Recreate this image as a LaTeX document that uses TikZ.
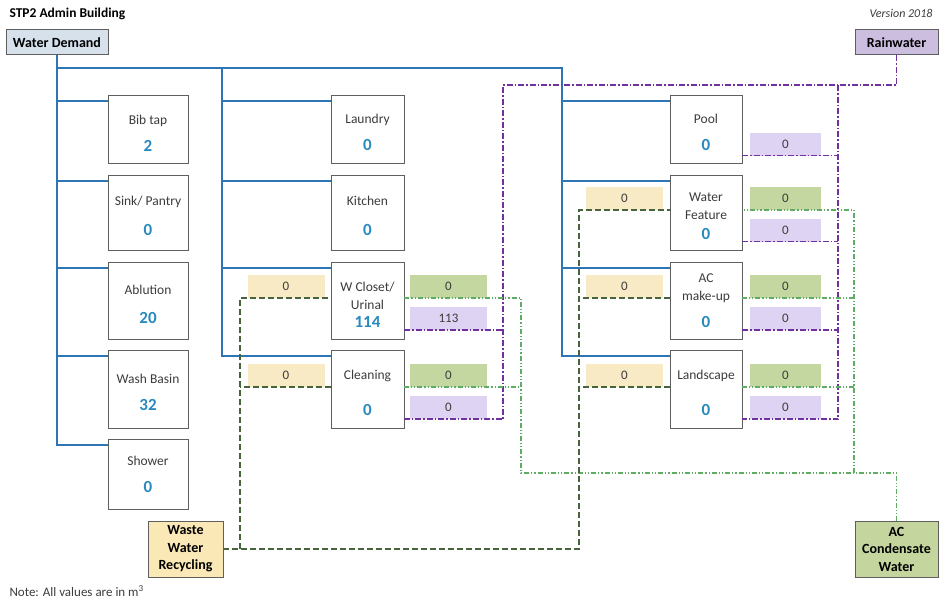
\documentclass[tikz,border=0pt]{standalone}
\usepackage{fontspec}
\setmainfont{Carlito}

\definecolor{boxgray}{RGB}{95,95,95}
\definecolor{labelgray}{RGB}{60,60,60}
\definecolor{valblue}{RGB}{40,138,190}
\definecolor{demandblue}{RGB}{46,117,182}
\definecolor{rainpurple}{RGB}{112,48,160}
\definecolor{condgreen}{RGB}{95,172,100}
\definecolor{wastegreen}{RGB}{72,100,60}
\definecolor{wdfill}{RGB}{214,225,236}
\definecolor{rwfill}{RGB}{204,190,222}
\definecolor{rfill}{RGB}{222,211,242}
\definecolor{yfill}{RGB}{247,234,197}
\definecolor{gfill}{RGB}{196,215,160}
\definecolor{wwrfill}{RGB}{250,232,182}
\definecolor{acwfill}{RGB}{196,214,158}

\newcommand{\demval}[1]{{\fontsize{17}{18}\selectfont\bfseries\color{valblue}#1}}
\newcommand{\tstrut}{\rule{0pt}{17pt}}

\tikzset{
  usage/.style={draw=boxgray, line width=1pt, fill=white, align=center,
    inner sep=0pt, outer sep=0pt, text=labelgray,
    font=\fontsize{13.5}{18}\selectfont},
  source/.style={draw=boxgray, line width=1pt, align=center,
    inner sep=0pt, outer sep=0pt, font=\bfseries\fontsize{14}{17.5}\selectfont},
  share/.style={inner sep=0pt, outer sep=0pt, minimum height=23pt,
    text=labelgray, font=\fontsize{13}{15}\selectfont},
  demand/.style={draw=demandblue, line width=1.4pt},
  rain/.style={draw=rainpurple, line width=1.4pt,
    dash pattern=on 6pt off 2pt on 1.5pt off 2pt},
  cond/.style={draw=condgreen, line width=1.2pt,
    dash pattern=on 5pt off 2pt on 1.2pt off 2pt on 1.2pt off 2pt},
  waste/.style={draw=wastegreen, line width=1.4pt, dash pattern=on 6pt off 3pt}
}

\begin{document}
\begin{tikzpicture}[x=1pt,y=-1pt]
\useasboundingbox (0,0) rectangle (941,602);

\node[anchor=west,font=\bfseries\fontsize{13.5}{15}\selectfont] (title) at (6,14) {STP2 Admin Building};
\node[anchor=east,font=\itshape\fontsize{12}{14}\selectfont,text=labelgray] (ver) at (936,13) {Version 2018};
\node[anchor=west,font=\fontsize{13}{15}\selectfont,text=labelgray] (note) at (6,591) {Note: All values are in m\textsuperscript{3}};

\node[source,fill=wdfill,minimum width=102pt,minimum height=25pt] (wd) at (57,42.5) {Water Demand};
\node[source,fill=rwfill,minimum width=83pt,minimum height=25pt] (rw) at (896.5,42.5) {Rainwater};
\node[source,fill=wwrfill,minimum width=75pt,minimum height=56pt] (wwr) at (185.5,549) {Waste\\Water\\Recycling};
\node[source,fill=acwfill,minimum width=83pt,minimum height=56pt] (acw) at (896.5,549) {AC\\Condensate\\Water};

\node[usage,minimum width=80pt,minimum height=68pt] (bib) at (148,129) {\tstrut Bib tap\\[9pt]\demval{2}};
\node[usage,minimum width=80pt,minimum height=75pt] (sink) at (148,212.5) {\tstrut Sink/ Pantry\\[12pt]\demval{0}};
\node[usage,minimum width=80pt,minimum height=77pt] (ablu) at (148,300.5) {\tstrut Ablution\\[11pt]\demval{20}};
\node[usage,minimum width=80pt,minimum height=78pt] (wash) at (148,389) {\tstrut Wash Basin\\[9pt]\demval{32}};
\node[usage,minimum width=80pt,minimum height=70pt] (shower) at (148,474) {Shower\\[9pt]\demval{0}};

\node[usage,minimum width=73pt,minimum height=68pt] (laundry) at (367.5,129) {\tstrut Laundry\\[9pt]\demval{0}};
\node[usage,minimum width=73pt,minimum height=75pt] (kitchen) at (367.5,212.5) {\tstrut Kitchen\\[12pt]\demval{0}};
\node[usage,minimum width=73pt,minimum height=77pt] (wc) at (367.5,300.5) {\tstrut W Closet/\\Urinal\\[0pt]\demval{114}};
\node[usage,minimum width=73pt,minimum height=78pt] (cl) at (367.5,389) {\tstrut Cleaning\\[18pt]\demval{0}};

\node[usage,minimum width=72pt,minimum height=68pt] (pool) at (706,129) {\tstrut Pool\\[9pt]\demval{0}};
\node[usage,minimum width=72pt,minimum height=75pt] (wf) at (706,212.5) {\tstrut Water\\Feature\\[2pt]\demval{0}};
\node[usage,minimum width=72pt,minimum height=77pt] (ac) at (706,300.5) {AC\\make-up\\[9pt]\demval{0}};
\node[usage,minimum width=72pt,minimum height=78pt] (ls) at (706,389) {\tstrut Landscape\\[18pt]\demval{0}};

\node[share,fill=yfill,minimum width=77pt] (wcY) at (286,286.5) {0};
\node[share,fill=gfill,minimum width=77pt] (wcC) at (448.5,286.5) {0};
\node[share,fill=rfill,minimum width=77pt] (wcR) at (448.5,318.5) {113};
\node[share,fill=yfill,minimum width=77pt] (clY) at (286,375.5) {0};
\node[share,fill=gfill,minimum width=77pt] (clC) at (448.5,375.5) {0};
\node[share,fill=rfill,minimum width=77pt] (clR) at (448.5,407.5) {0};

\node[share,fill=rfill,minimum width=71pt] (poolR) at (785.5,144) {0};
\node[share,fill=yfill,minimum width=77pt] (wfY) at (624.5,198.5) {0};
\node[share,fill=gfill,minimum width=71pt] (wfC) at (785.5,198.5) {0};
\node[share,fill=rfill,minimum width=71pt] (wfR) at (785.5,230) {0};
\node[share,fill=yfill,minimum width=77pt] (acY) at (624.5,286.5) {0};
\node[share,fill=gfill,minimum width=71pt] (acC) at (785.5,286.5) {0};
\node[share,fill=rfill,minimum width=71pt] (acR) at (785.5,318.5) {0};
\node[share,fill=yfill,minimum width=77pt] (lsY) at (624.5,375.5) {0};
\node[share,fill=gfill,minimum width=71pt] (lsC) at (785.5,375.5) {0};
\node[share,fill=rfill,minimum width=71pt] (lsR) at (785.5,407.5) {0};

% demand
\coordinate (busA) at (222,68);
\coordinate (busB) at (562,68);
\draw[demand] (wd.south) |- (busB) |- ([yshift=-6pt]ls.north west);
\draw[demand] (busA) |- ([yshift=-6pt]cl.north west);
\draw[demand] (wd.south) |- ([yshift=-6pt]shower.north west);
\foreach \u in {bib,sink,ablu,wash}
  \draw[demand] ([yshift=-6pt]\u.north west) -| (wd.south);
\foreach \u in {laundry,kitchen,wc}
  \draw[demand] ([yshift=-6pt]\u.north west) -| (busA);
\foreach \u in {pool,wf,ac}
  \draw[demand] ([yshift=-6pt]\u.north west) -| (busB);

% rainwater
\coordinate (rainA) at (503,85);
\coordinate (rainB) at (838,85);
\draw[rain] (rw.south) |- (rainA) |- (cl.east |- clR.south);
\draw[rain] (wc.east |- wcR.south) -- (wcR.south -| rainA);
\draw[rain] (rainB) |- (ls.east |- lsR.south);
\foreach \u/\r in {pool/poolR,wf/wfR,ac/acR}
  \draw[rain] (\u.east |- \r.south) -- (\r.south -| rainB);

% condensate
\coordinate (condA) at (521,473);
\coordinate (condB) at (854,473);
\draw[cond] (acw.north) |- (condA) |- (wc.east |- wcC.south);
\draw[cond] (cl.east |- clC.south) -- (clC.south -| condA);
\draw[cond] (condB) |- (wf.east |- wfC.south);
\foreach \u/\r in {ac/acC,ls/lsC}
  \draw[cond] (\u.east |- \r.south) -- (\r.south -| condB);

% recycled
\coordinate (wasteA) at (240,549);
\coordinate (wasteB) at (579,549);
\draw[waste] (wwr.east) -- (wasteB) |- (wf.west |- wfY.south);
\draw[waste] (wasteA) |- (wc.west |- wcY.south);
\draw[waste] (cl.west |- clY.south) -- (clY.south -| wasteA);
\foreach \u/\r in {ac/acY,ls/lsY}
  \draw[waste] (\u.west |- \r.south) -- (\r.south -| wasteB);
\end{tikzpicture}
\end{document}
